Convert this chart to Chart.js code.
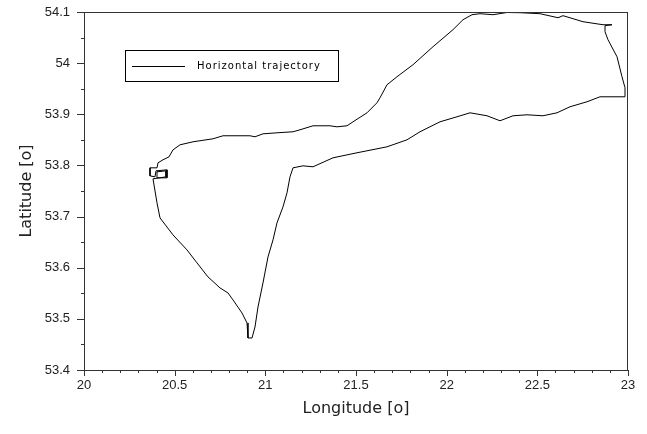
<!DOCTYPE html>
<html>
<head>
<meta charset="utf-8">
<script src="https://cdn.jsdelivr.net/npm/chart.js@4"></script>
<style>
  html, body { margin: 0; padding: 0; background: #fff; }
  #wrap { width: 647px; height: 434px; }
</style>
</head>
<body>
<div id="wrap"><canvas id="trajChart" width="647" height="434"></canvas></div>
<script>
const seriesLabel = 'Horizontal trajectory';

const lon = [
  20.4081, 20.4026, 20.3640, 20.3640, 20.3915, 20.3970, 20.4577, 20.4577, 20.4026, 20.4026,
  20.4522, 20.4522, 20.3805,
  20.4026, 20.4191, 20.4908, 20.5680, 20.6232, 20.6838, 20.7500, 20.7941, 20.8217, 20.8713,
  20.8989, 20.9044, 20.9265, 20.9430, 20.9596, 20.9871, 21.0147, 21.0423, 21.0643, 21.0974,
  21.1195, 21.1360, 21.1526, 21.2077, 21.2629, 21.3732, 21.5055, 21.6710, 21.7813, 21.8530,
  21.9633, 22.0570, 22.1287, 22.2225, 22.2942, 22.3659, 22.4431, 22.5313, 22.6085, 22.6802,
  22.7739, 22.8456, 22.9835, 22.9835, 22.9669, 22.9394, 22.8897, 22.8732, 22.8732, 22.9118,
  22.8622, 22.7519, 22.6416, 22.6140, 22.5147, 22.4044, 22.3327, 22.2555, 22.1838, 22.1397,
  22.0901, 22.0349, 21.9246, 21.8143, 21.7261, 21.6710, 21.6324, 21.6158, 21.5607, 21.4835,
  21.4504, 21.3952, 21.3566, 21.2629, 21.1912, 21.1526, 21.0643, 20.9871, 20.9430, 20.9154,
  20.7666, 20.7114, 20.6011, 20.5294, 20.4908, 20.4688, 20.4357, 20.4081
];

const lat = [
  53.8051, 53.7953, 53.7953, 53.7796, 53.7777, 53.7894, 53.7914, 53.7757, 53.7757, 53.7875,
  53.7894, 53.7777, 53.7738,
  53.7268, 53.6975, 53.6642, 53.6348, 53.6094, 53.5820, 53.5605, 53.5507, 53.5370, 53.5115,
  53.4920, 53.4626, 53.4626, 53.4841, 53.5233, 53.5703, 53.6211, 53.6544, 53.6877, 53.7190,
  53.7464, 53.7777, 53.7953, 53.7992, 53.7973, 53.8149, 53.8247, 53.8364, 53.8501, 53.8658,
  53.8853, 53.8951, 53.9029, 53.8971, 53.8873, 53.8971, 53.8990, 53.8971, 53.9029, 53.9147,
  53.9245, 53.9342, 53.9342, 53.9519, 53.9734, 54.0125, 54.0458, 54.0614, 54.0732, 54.0751,
  54.0751, 54.0810, 54.0928, 54.0888, 54.0967, 54.0986, 54.0990, 54.0947, 54.0967, 54.0947,
  54.0849, 54.0654, 54.0321, 53.9969, 53.9734, 53.9577, 53.9323, 53.9225, 53.9029, 53.8853,
  53.8775, 53.8755, 53.8775, 53.8775, 53.8697, 53.8658, 53.8638, 53.8618, 53.8560, 53.8580,
  53.8580, 53.8521, 53.8462, 53.8403, 53.8305, 53.8168, 53.8110, 53.8051
];

const xTicks = [20, 20.5, 21, 21.5, 22, 22.5, 23];
const yTicks = [53.4, 53.5, 53.6, 53.7, 53.8, 53.9, 54, 54.1];

const points = lon.map((x, i) => ({ x, y: lat[i] }));

const fmt = v => String(Number(v.toFixed(2)));

// frame, ticks (major + minor) and the boxed legend
const framePlugin = {
  id: 'frame',
  afterDraw(chart) {
    const { ctx, chartArea: a, scales: { x, y } } = chart;
    ctx.save();
    ctx.strokeStyle = '#333';
    ctx.lineWidth = 1;
    ctx.strokeRect(a.left + 0.5, a.top + 0.5, a.right - a.left - 1, a.bottom - a.top);

    ctx.beginPath();
    for (let v = 20; v <= 23.0001; v += 0.1) {
      const px = Math.round(x.getPixelForValue(v)) + 0.5;
      const major = Math.abs(v * 2 - Math.round(v * 2)) < 1e-6;
      ctx.moveTo(px, a.bottom);
      ctx.lineTo(px, a.bottom + (major ? 6 : 3));
    }
    for (let v = 53.4; v <= 54.1001; v += 0.05) {
      const py = Math.round(y.getPixelForValue(v)) + 0.5;
      const major = Math.abs(v * 10 - Math.round(v * 10)) < 1e-6;
      ctx.moveTo(a.left, py);
      ctx.lineTo(a.left - (major ? 7 : 3), py);
    }
    ctx.stroke();

    // legend box
    ctx.strokeStyle = '#000';
    ctx.strokeRect(125.5, 50.5, 213, 31);
    ctx.beginPath();
    ctx.moveTo(132, 66.5);
    ctx.lineTo(185, 66.5);
    ctx.stroke();
    ctx.fillStyle = '#000';
    ctx.font = '10px "DejaVu Sans"';
    ctx.letterSpacing = '1px';
    ctx.textBaseline = 'middle';
    ctx.fillText(chart.data.datasets[0].label, 197, 66);
    ctx.restore();
  }
};

new Chart(document.getElementById('trajChart'), {
  type: 'scatter',
  data: {
    datasets: [{
      label: seriesLabel,
      data: points,
      showLine: true,
      borderColor: '#000',
      borderWidth: 1,
      pointRadius: 0,
      tension: 0,
      fill: false
    }]
  },
  options: {
    responsive: false,
    animation: false,
    layout: { padding: { left: 13, right: 19, top: 12, bottom: 12 } },
    plugins: {
      legend: { display: false },
      tooltip: { enabled: false }
    },
    scales: {
      x: {
        type: 'linear',
        min: 20,
        max: 23,
        afterBuildTicks: s => { s.ticks = xTicks.map(v => ({ value: v })); },
        afterFit: s => { s.height = 52; s.paddingLeft = 0; s.paddingRight = 0; },
        grid: { display: false, drawTicks: false },
        border: { display: false },
        ticks: {
          padding: 8,
          color: '#222',
          font: { family: '"Liberation Sans", Arial', size: 13 },
          callback: v => fmt(v)
        },
        title: {
          display: true,
          text: 'Longitude [o]',
          color: '#222',
          padding: { top: 0, bottom: 4 },
          font: { family: '"DejaVu Sans"', size: 16 }
        }
      },
      y: {
        type: 'linear',
        min: 53.4,
        max: 54.1,
        afterBuildTicks: s => { s.ticks = yTicks.map(v => ({ value: v })); },
        afterFit: s => { s.width = 71; s.paddingTop = 0; s.paddingBottom = 0; },
        grid: { display: false, drawTicks: false },
        border: { display: false },
        ticks: {
          padding: 14,
          color: '#222',
          font: { family: '"Liberation Sans", Arial', size: 13 },
          callback: v => fmt(v)
        },
        title: {
          display: true,
          text: 'Latitude [o]',
          color: '#222',
          padding: { top: 4, bottom: 0 },
          font: { family: '"DejaVu Sans"', size: 16 }
        }
      }
    }
  },
  plugins: [framePlugin]
});
</script>
</body>
</html>
